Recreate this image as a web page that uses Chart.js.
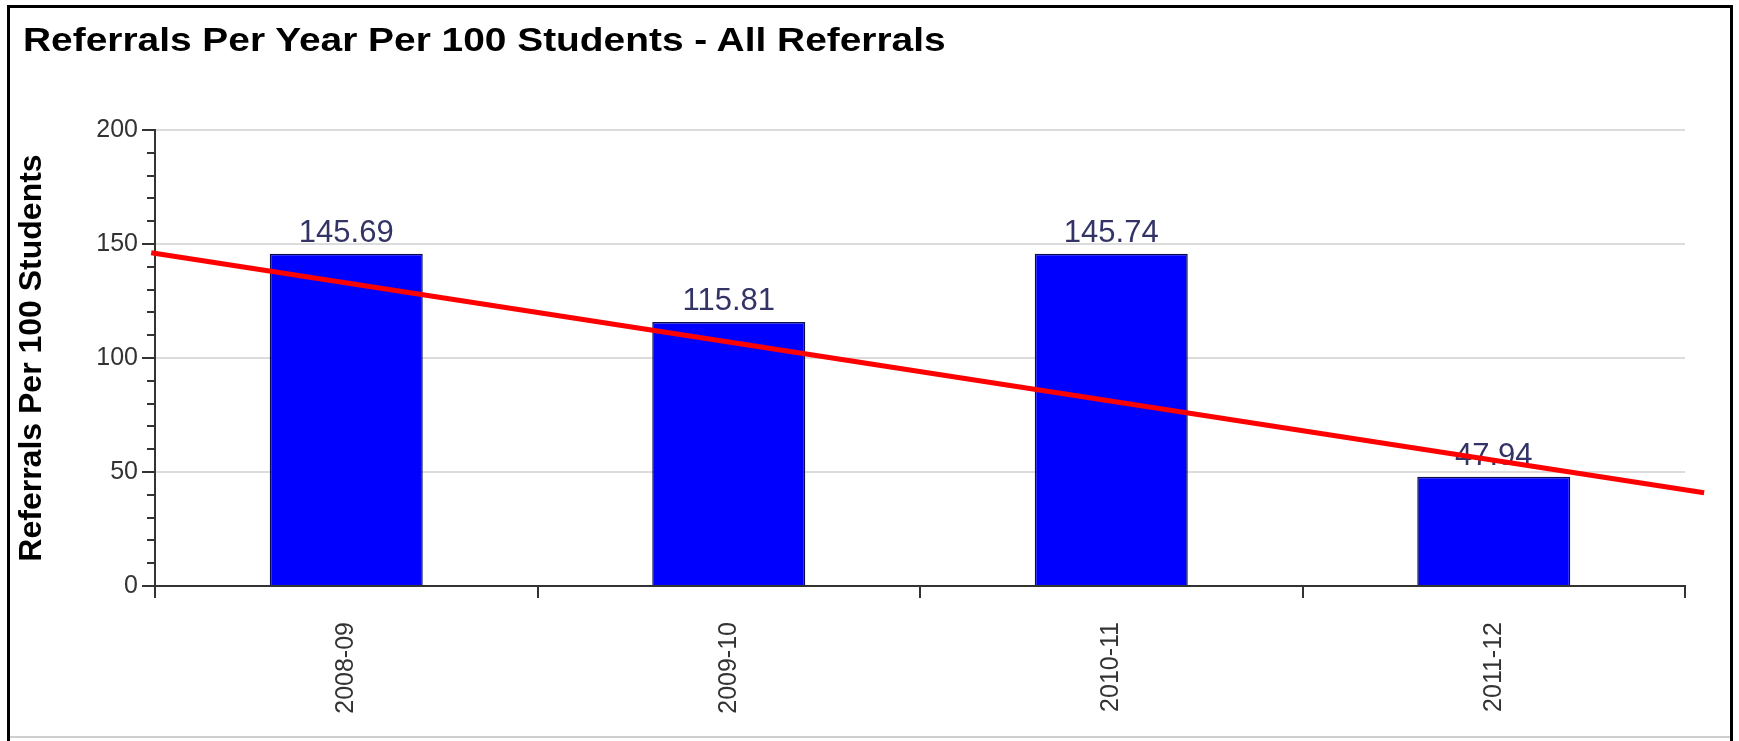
<!DOCTYPE html>
<html>
<head>
<meta charset="utf-8">
<script src="https://cdn.jsdelivr.net/npm/chart.js@4.4.1/dist/chart.umd.min.js"></script>
<style>
  body { margin: 0; background: #fff; }
  #wrap { position: relative; width: 1739px; height: 741px; }
  #title {
    position: absolute; left: 23px; top: 23px;
    font: bold 33px 'Liberation Sans', Arial, sans-serif; line-height: 33px;
    color: #000; white-space: nowrap;
    transform: scaleX(1.178); transform-origin: 0 0;
  }
</style>
</head>
<body>
<div id="wrap">
  <canvas id="myChart" width="1739" height="741"></canvas>
  <div id="title">Referrals Per Year Per 100 Students - All Referrals</div>
</div>
<script>
const seasons = ['2008-09', '2009-10', '2010-11', '2011-12'];
const referrals_per_100 = [145.69, 115.81, 145.74, 47.94];
// trend line ends (x in category index units)
const trend_x = [-0.51, 3.55];
const trend_y = [146.2, 40.9];
const y_ticks = [0, 50, 100, 150, 200];
const y_minor_step = 10;

const font_family = "'Liberation Sans', Arial, sans-serif";

// white page with the black frame round it
const frame = {
  id: 'frame',
  beforeDraw(chart) {
    const ctx = chart.ctx;
    ctx.save();
    ctx.fillStyle = '#fff';
    ctx.fillRect(0, 0, chart.width, chart.height);
    ctx.strokeStyle = '#cfcfcf';
    ctx.lineWidth = 2;
    ctx.beginPath();
    ctx.moveTo(8, 737); ctx.lineTo(1731, 737);
    ctx.stroke();
    ctx.strokeStyle = '#000';
    ctx.lineWidth = 3;
    ctx.beginPath();
    ctx.moveTo(8.5, 741); ctx.lineTo(8.5, 6.5); ctx.lineTo(1731.5, 6.5); ctx.lineTo(1731.5, 741);
    ctx.stroke();
    ctx.restore();
  }
};

// small ticks between the labelled ones on the y axis
const minor_ticks = {
  id: 'minor_ticks',
  afterDraw(chart) {
    const y = chart.scales.y, ctx = chart.ctx, left = chart.chartArea.left;
    ctx.save();
    ctx.strokeStyle = '#333';
    ctx.lineWidth = 2;
    for (let v = y.min + y_minor_step; v < y.max; v += y_minor_step) {
      if (y_ticks.includes(v)) continue;
      const py = Math.round(y.getPixelForValue(v));
      ctx.beginPath();
      ctx.moveTo(left - 8, py);
      ctx.lineTo(left, py);
      ctx.stroke();
    }
    ctx.restore();
  }
};

// value labels over the bars, drawn before the trend line
const bar_labels = {
  id: 'bar_labels',
  afterDatasetDraw(chart, args) {
    if (args.index !== 0) return;
    const ctx = chart.ctx;
    ctx.save();
    ctx.fillStyle = '#333366';
    ctx.font = '31px ' + font_family;
    ctx.textAlign = 'center';
    ctx.textBaseline = 'alphabetic';
    args.meta.data.forEach((bar, i) => {
      ctx.fillText(referrals_per_100[i].toFixed(2), bar.x, bar.y - 12);
    });
    ctx.restore();
  }
};

const ctx = document.getElementById('myChart');
new Chart(ctx, {
  type: 'bar',
  data: {
    labels: seasons,
    datasets: [{
      label: 'Referrals Per 100 Students',
      data: referrals_per_100,
      backgroundColor: '#0000ff',
      borderColor: '#0c0c50',
      borderWidth: 1.5,
      barPercentage: 0.4,
      categoryPercentage: 1,
      grouped: false,
      order: 2
    }, {
      type: 'line',
      label: 'Trend',
      data: trend_x.map((x, i) => ({ x: x, y: trend_y[i] })),
      xAxisID: 'xt',
      borderColor: '#ff0000',
      borderWidth: 5,
      pointRadius: 0,
      clip: false,
      order: 1
    }]
  },
  options: {
    responsive: false,
    animation: false,
    layout: { padding: { top: 130, right: 54, left: 0, bottom: 0 } },
    plugins: {
      legend: { display: false },
      tooltip: { enabled: false }
    },
    scales: {
      x: {
        offset: true,
        afterFit: (scale) => { scale.height = 155; },
        border: { color: '#333', width: 2 },
        grid: { offset: true, drawOnChartArea: false, tickLength: 12, tickColor: '#333', lineWidth: 2 },
        ticks: {
          minRotation: 90, maxRotation: 90, padding: 24,
          color: '#333', font: { family: font_family, size: 25 }
        }
      },
      xt: {
        type: 'linear', display: false, offset: false,
        grid: { offset: false },
        min: -0.5, max: 3.5
      },
      y: {
        min: 0, max: 200,
        afterFit: (scale) => { scale.width = 155; },
        afterBuildTicks: (scale) => { scale.ticks = y_ticks.map(v => ({ value: v })); },
        border: { color: '#333', width: 2 },
        grid: {
          color: (c) => c.tick && c.tick.value === 0 ? 'rgba(0,0,0,0)' : '#dcdcdc',
          tickColor: '#333',
          lineWidth: 2,
          tickLength: 13
        },
        ticks: { padding: 4, color: '#333', font: { family: font_family, size: 25 } },
        title: {
          display: true,
          text: 'Referrals Per 100 Students',
          color: '#000',
          font: { family: font_family, size: 32, weight: 'bold' },
          padding: { top: 13, bottom: 0 }
        }
      }
    }
  },
  plugins: [frame, minor_ticks, bar_labels]
});
</script>
</body>
</html>
